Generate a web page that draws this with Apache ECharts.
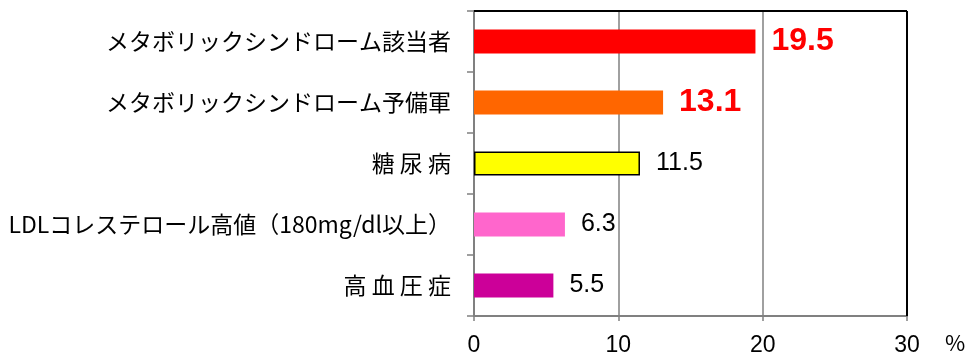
<!DOCTYPE html>
<html>
<head>
<meta charset="utf-8">
<script src="https://cdn.jsdelivr.net/npm/echarts@6/dist/echarts.min.js"></script>
<style>
  html, body { margin: 0; padding: 0; background: #fff; }
  #chart { width: 966px; height: 360px; }
</style>
</head>
<body>
<div id="chart"></div>
<script>
// カテゴリ（上から順）
const categories = [
  'メタボリックシンドローム該当者',
  'メタボリックシンドローム予備軍',
  '糖 尿 病',
  'LDLコレステロール高値（180mg/dl以上）',
  '高 血 圧 症'
];
const values = [19.5, 13.1, 11.5, 6.3, 5.5];
const barColors = ['#ff0000', '#ff6600', '#ffff00', '#ff66cc', '#cc0099'];
const labelColors = ['#ff0000', '#ff0000', '#000', '#000', '#000'];
const xTicks = [0, 10, 20, 30];

const fontJP = '"Noto Sans CJK JP", sans-serif';
const fontNum = '"Liberation Sans", Arial, sans-serif';
const chart = echarts.init(document.getElementById('chart'));

const seriesData = values.map((v, i) => ({
  value: v,
  itemStyle: {
    color: barColors[i],
    borderColor: i === 2 ? '#000' : barColors[i],
    borderWidth: i === 2 ? 1.5 : 0
  },
  label: {
    color: labelColors[i],
    fontSize: i < 2 ? 32 : 25,
    fontWeight: i < 2 ? 'bold' : 'normal'
  }
}));

const option = {
  backgroundColor: '#fff',
  animation: false,
  grid: { left: 474, right: 59, top: 11, bottom: 44, containLabel: false, outerBoundsMode: 'none' },
  xAxis: {
    type: 'value',
    min: xTicks[0],
    max: xTicks[xTicks.length - 1],
    interval: 10,
    name: '%',
    nameLocation: 'end',
    nameGap: 38,
    nameTextStyle: { fontFamily: fontJP, fontSize: 22, color: '#000', verticalAlign: 'top', padding: [16, 0, 0, 0] },
    axisLine: { show: true, lineStyle: { color: '#808080', width: 2 } },
    axisTick: { show: true, length: 5, lineStyle: { color: '#808080', width: 1.5 } },
    axisLabel: { fontFamily: fontNum, fontSize: 23, color: '#000', margin: 18 },
    splitLine: { show: true, lineStyle: { color: '#808080', width: 1.5 } }
  },
  yAxis: {
    type: 'category',
    data: categories,
    inverse: true,
    axisLine: { show: true, lineStyle: { color: '#808080', width: 2 } },
    axisTick: { show: true, inside: false, length: 7, lineStyle: { color: '#808080', width: 1.5 } },
    axisLabel: { fontFamily: fontJP, fontSize: 23, color: '#000', margin: 23 }
  },
  series: [
    {
      type: 'bar',
      data: seriesData,
      barWidth: 24,
      label: {
        show: true,
        position: 'right',
        distance: 16,
        fontFamily: fontNum
      }
    },
    // 右端の黒い枠線
    {
      type: 'line',
      data: [],
      markLine: {
        silent: true,
        symbol: 'none',
        label: { show: false },
        lineStyle: { color: '#000', width: 2, type: 'solid' },
        data: [
          { xAxis: xTicks[xTicks.length - 1] }
        ]
      }
    }
  ]
};

chart.setOption(option);

// 上端の黒線
const grid = chart.getModel().getComponent('grid').coordinateSystem.getRect();
chart.setOption({
  graphic: [{
    type: 'line',
    shape: { x1: grid.x, y1: grid.y, x2: grid.x + grid.width, y2: grid.y },
    style: { stroke: '#000', lineWidth: 2 },
    z: 10
  }]
});
</script>
</body>
</html>
